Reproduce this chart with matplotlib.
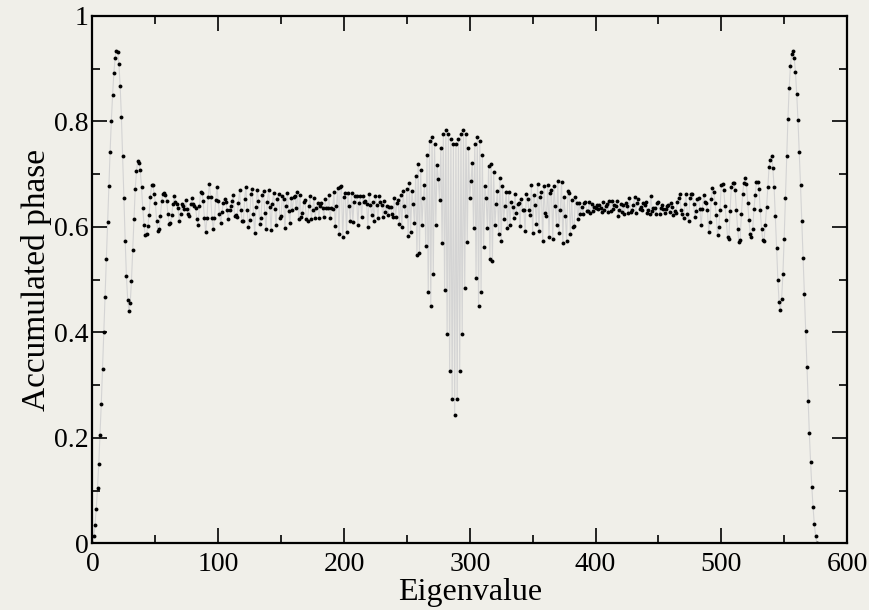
import numpy as np
import matplotlib
matplotlib.use("Agg")
import matplotlib.pyplot as plt
from matplotlib.ticker import MultipleLocator

# accumulated phase per eigenvalue index in pieces
edge_left = [0.000, 0.013, 0.034, 0.066, 0.105, 0.151, 0.206, 0.265, 0.330, 0.400,
             0.468, 0.539, 0.610, 0.678, 0.742, 0.801, 0.851, 0.892, 0.920, 0.934,
             0.931, 0.909, 0.868, 0.808, 0.734, 0.654, 0.574, 0.506, 0.462, 0.440,
             0.455, 0.498, 0.556, 0.615, 0.672, 0.706, 0.725, 0.722, 0.707, 0.675,
             0.635, 0.604, 0.584, 0.587, 0.602, 0.622, 0.657, 0.680]
band_b = [0.680, 0.663, 0.646, 0.612, 0.592, 0.596, 0.620, 0.649, 0.663, 0.665,
          0.660, 0.649, 0.625, 0.606, 0.607, 0.622, 0.644]
band_c = [0.658, 0.647, 0.643, 0.635, 0.612, 0.624, 0.643, 0.640, 0.634, 0.651,
          0.634, 0.624, 0.620, 0.644, 0.654, 0.643, 0.640, 0.636, 0.615, 0.604,
          0.639, 0.667, 0.665, 0.649, 0.617, 0.590, 0.616, 0.657, 0.682, 0.657,
          0.617, 0.596, 0.616, 0.651, 0.675, 0.649, 0.624, 0.608, 0.628, 0.646,
          0.653, 0.648, 0.632, 0.615, 0.633, 0.640, 0.649, 0.660, 0.620, 0.622,
          0.619, 0.646, 0.670, 0.632, 0.611, 0.611, 0.653, 0.676, 0.632, 0.599,
          0.614, 0.663, 0.671, 0.625, 0.588, 0.637, 0.670, 0.650, 0.606, 0.617,
          0.660, 0.668, 0.627, 0.597, 0.648, 0.670, 0.638, 0.594, 0.644, 0.665,
          0.634, 0.604, 0.653, 0.663, 0.617, 0.621, 0.658, 0.653, 0.598, 0.640,
          0.665, 0.631, 0.608, 0.654, 0.632]
band_d = [0.657, 0.659, 0.635, 0.667, 0.615, 0.660, 0.618, 0.626, 0.648, 0.651,
          0.615, 0.612, 0.639, 0.658, 0.615, 0.632, 0.654, 0.617, 0.635, 0.645,
          0.617, 0.639, 0.646, 0.636, 0.618, 0.652, 0.635, 0.635, 0.661, 0.617,
          0.635, 0.634, 0.666, 0.601, 0.639, 0.673, 0.586, 0.675, 0.677, 0.580,
          0.656, 0.664, 0.590, 0.664, 0.640, 0.611, 0.664, 0.610, 0.647, 0.659,
          0.659, 0.604, 0.645, 0.659, 0.618, 0.659, 0.648, 0.649, 0.644, 0.600,
          0.662, 0.641, 0.622, 0.647, 0.611, 0.658, 0.641, 0.617, 0.659]
center_left = [0.648, 0.641, 0.618, 0.650, 0.629, 0.639, 0.622, 0.638, 0.638, 0.625,
               0.618, 0.655, 0.618, 0.645, 0.651, 0.605, 0.660, 0.599, 0.668, 0.639,
               0.620, 0.672, 0.582, 0.683, 0.590, 0.669, 0.643, 0.608, 0.697, 0.547,
               0.720, 0.551, 0.708, 0.604, 0.654, 0.679, 0.564, 0.736, 0.476, 0.763,
               0.450, 0.770, 0.510, 0.758, 0.604, 0.718, 0.691, 0.651, 0.749, 0.569,
               0.777, 0.481, 0.784, 0.397, 0.777, 0.326, 0.766, 0.273, 0.757, 0.244]
center_right = [0.757, 0.273, 0.766, 0.326, 0.777, 0.397, 0.784, 0.484, 0.777, 0.572,
                0.749, 0.655, 0.687, 0.722, 0.598, 0.758, 0.503, 0.770, 0.450, 0.763,
                0.476, 0.736, 0.561, 0.677, 0.655, 0.598, 0.715, 0.540, 0.720, 0.536,
                0.704, 0.603, 0.643, 0.668, 0.587, 0.692, 0.573, 0.678, 0.615, 0.640,
                0.666, 0.598, 0.666, 0.604]
band_e = [0.648, 0.638, 0.616, 0.662, 0.626, 0.644, 0.645, 0.602, 0.653, 0.633,
          0.633, 0.593, 0.663, 0.653, 0.633, 0.623, 0.679, 0.589, 0.660, 0.642,
          0.606, 0.682, 0.592, 0.656, 0.667, 0.574, 0.678, 0.627, 0.620, 0.680,
          0.581, 0.665, 0.670, 0.577, 0.678, 0.639, 0.604, 0.688, 0.589, 0.633,
          0.686, 0.570, 0.656, 0.621, 0.574, 0.668, 0.664, 0.587, 0.651, 0.600]
band_f = [0.601, 0.656, 0.646, 0.615, 0.646, 0.625, 0.638, 0.624, 0.646, 0.648,
          0.630, 0.631, 0.647, 0.626, 0.643, 0.631, 0.638, 0.635, 0.641, 0.634,
          0.642, 0.636, 0.629, 0.647, 0.632, 0.639, 0.644, 0.628, 0.650, 0.630,
          0.650, 0.634, 0.642, 0.640, 0.649, 0.621, 0.632, 0.644, 0.628, 0.642,
          0.624, 0.646, 0.640, 0.627, 0.655, 0.628, 0.633, 0.642, 0.657, 0.627,
          0.646, 0.652, 0.634, 0.638, 0.632, 0.646, 0.641, 0.647, 0.627, 0.633,
          0.624, 0.659, 0.631, 0.635, 0.636, 0.625, 0.645, 0.647, 0.625, 0.635,
          0.642, 0.634, 0.626, 0.634, 0.640, 0.642, 0.628, 0.646, 0.637, 0.622,
          0.631, 0.626, 0.647, 0.655, 0.662, 0.632, 0.624, 0.616, 0.643]
band_g = [0.662, 0.624, 0.612, 0.654, 0.662, 0.662, 0.643, 0.618, 0.630, 0.653,
          0.654, 0.634, 0.603, 0.634, 0.661, 0.648, 0.645, 0.632, 0.591, 0.609,
          0.653, 0.673, 0.666, 0.646, 0.623, 0.584, 0.599, 0.633, 0.679, 0.682,
          0.670, 0.639, 0.613, 0.580, 0.578, 0.630, 0.676, 0.684, 0.684, 0.670,
          0.632, 0.596, 0.572, 0.576, 0.624, 0.663, 0.684, 0.692, 0.682, 0.646,
          0.613, 0.587, 0.580, 0.597, 0.634, 0.661, 0.685, 0.685, 0.671, 0.632,
          0.597, 0.575, 0.574, 0.603, 0.637, 0.675, 0.713, 0.727]
edge_right = [0.735, 0.712, 0.676, 0.620, 0.560, 0.500, 0.457, 0.442, 0.464, 0.510,
              0.578, 0.655, 0.735, 0.805, 0.864, 0.906, 0.928, 0.933, 0.920, 0.893,
              0.852, 0.802, 0.742, 0.680, 0.612, 0.542, 0.472, 0.402, 0.334, 0.270,
              0.210, 0.155, 0.107, 0.068, 0.036, 0.014, 0.000]

phase = np.array(edge_left + band_b + band_c + band_d + center_left + center_right
                 + band_e + band_f + band_g + edge_right)
eig = np.arange(len(phase))

plt.rcParams['font.family'] = ['Liberation Serif', 'DejaVu Serif']

fig = plt.figure(figsize=(8.7, 6.1), dpi=100, facecolor='#f0efe9')
ax = fig.add_axes([0.1063, 0.1093, 0.8673, 0.8645])
ax.set_facecolor('#f0efe9')

ax.plot(eig, phase, color='#d4d4d4', lw=0.8, zorder=1)
ax.plot(eig, phase, 'o', color='black', ms=2.8, mew=0, zorder=2)

ax.set_xlim(0, 600)
ax.set_ylim(0, 1)
ax.xaxis.set_major_locator(MultipleLocator(100))
ax.xaxis.set_minor_locator(MultipleLocator(50))
ax.yaxis.set_minor_locator(MultipleLocator(0.1))
ax.set_yticks([0, 0.2, 0.4, 0.6, 0.8, 1])
ax.set_yticklabels(['0', '0.2', '0.4', '0.6', '0.8', '1'])
ax.tick_params(which='both', direction='in', top=True, right=True, labelsize=20, width=1.2)
ax.tick_params(which='major', length=11)
ax.tick_params(which='minor', length=5.5)
ax.tick_params(axis='x', which='major', pad=6)
ax.tick_params(axis='y', which='major', pad=3)
for s in ax.spines.values():
    s.set_linewidth(1.6)

ax.set_xlabel('Eigenvalue', fontsize=23, labelpad=1)
ax.set_ylabel('Accumulated phase', fontsize=24, labelpad=1)

fig.savefig('out.png', dpi=100, facecolor=fig.get_facecolor())
